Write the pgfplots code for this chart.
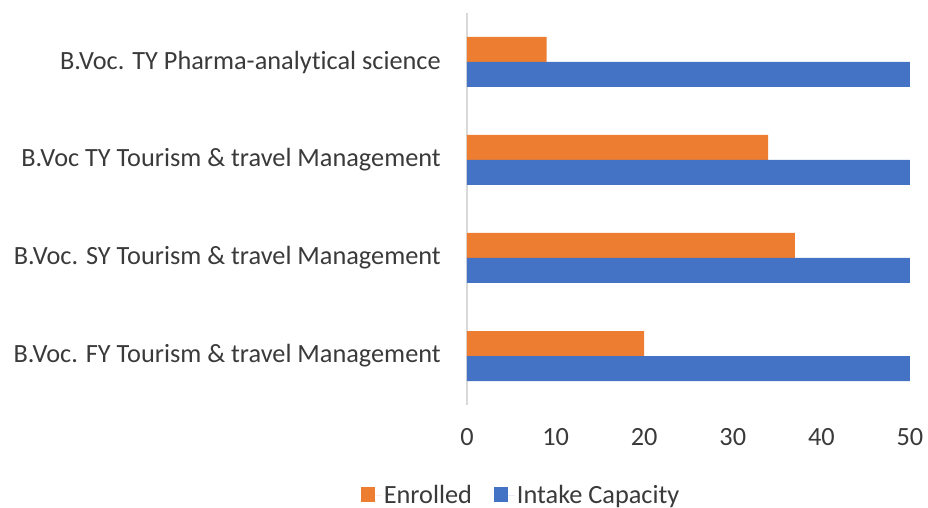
\documentclass[border=0pt]{standalone}
\usepackage{pgfplots}
\pgfplotsset{compat=1.18}
\usepackage{fontspec}
\setmainfont[Ligatures=NoCommon]{Carlito}
\definecolor{cOrange}{HTML}{ED7D31}
\definecolor{cBlue}{HTML}{4472C4}
\definecolor{cText}{HTML}{3A3A3A}
\definecolor{cAxis}{HTML}{D9D9D9}
\begin{document}
\begin{tikzpicture}
\begin{axis}[
  scale only axis, width=443bp, height=392bp,
  xbar, bar width=25bp,
  xmin=0, xmax=50, ymin=-0.5, ymax=3.5,
  xtick={0,10,20,30,40,50}, ytick={0,1,2,3},
  yticklabels={B.Voc. FY Tourism \& travel Management,
               B.Voc. SY Tourism \& travel Management,
               B.Voc TY Tourism \& travel Management,
               B.Voc. TY Pharma-analytical science},
  axis lines*=left,
  x axis line style={draw=none},
  y axis line style={draw=cAxis, line width=2bp},
  major tick length=0pt,
  /pgf/number format/assume math mode=true,
  tick label style={font=\fontsize{26.3bp}{30bp}\selectfont, text=cText},
  xticklabel style={anchor=center, yshift=-32bp},
  yticklabel style={anchor=east, inner sep=0pt, xshift=-26bp},
  legend style={at={(rel axis cs:0.122,-0.23)}, anchor=center, draw=none,
    legend columns=2, font=\fontsize{26.3bp}{30bp}\selectfont, text=cText,
    /tikz/every even column/.append style={column sep=20bp}},
  legend image code/.code={\fill[#1] (0bp,-7bp) rectangle (14bp,8bp); \path (0bp,0bp) -- (21bp,0bp);},
]
\addplot[fill=cOrange, draw=none, bar shift=12.5bp] coordinates {(20,0) (37,1) (34,2) (9,3)};
\addlegendentry{Enrolled}
\addplot[fill=cBlue, draw=none, bar shift=-12.5bp] coordinates {(50,0) (50,1) (50,2) (50,3)};
\addlegendentry{Intake Capacity}
\end{axis}
\pgfresetboundingbox
\useasboundingbox (-467bp,-103bp) rectangle (461bp,405bp);
\end{tikzpicture}
\end{document}
